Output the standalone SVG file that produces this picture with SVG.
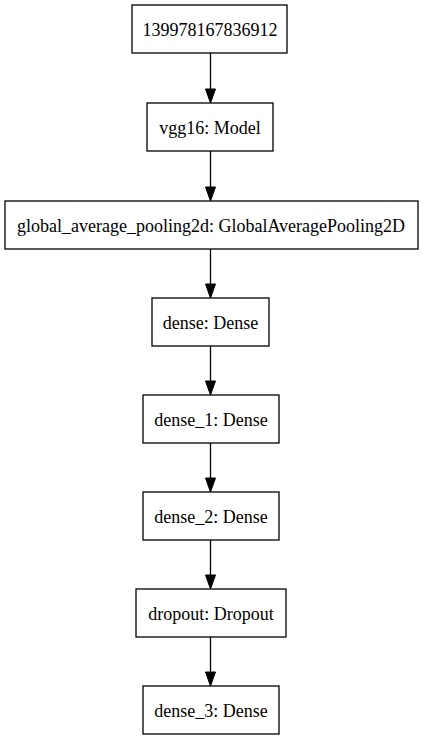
<svg xmlns="http://www.w3.org/2000/svg" width="423" height="741" viewBox="0 0 423 741">
<style>
.box{fill:#fff;stroke:#000;stroke-width:1.3}
.lbl{font-family:"Liberation Serif","Times New Roman",serif;font-size:18px;fill:#000;text-anchor:middle}
.edge{stroke:#000;stroke-width:1.3;fill:none}
.head{fill:#000;stroke:#000;stroke-width:1}
</style>
<rect width="423" height="741" fill="#fff"/>
<g id="connectors">
<line class="edge" x1="210.5" y1="53" x2="210.5" y2="89"/><polygon class="head" points="205.5,89 215.5,89 210.5,103"/>
<line class="edge" x1="210.5" y1="151" x2="210.5" y2="187"/><polygon class="head" points="205.5,187 215.5,187 210.5,201"/>
<line class="edge" x1="210.5" y1="249" x2="210.5" y2="284"/><polygon class="head" points="205.5,284 215.5,284 210.5,298"/>
<line class="edge" x1="210.5" y1="346" x2="210.5" y2="381"/><polygon class="head" points="205.5,381 215.5,381 210.5,395"/>
<line class="edge" x1="210.5" y1="443" x2="210.5" y2="478"/><polygon class="head" points="205.5,478 215.5,478 210.5,492"/>
<line class="edge" x1="210.5" y1="540" x2="210.5" y2="575"/><polygon class="head" points="205.5,575 215.5,575 210.5,589"/>
<line class="edge" x1="210.5" y1="637" x2="210.5" y2="672"/><polygon class="head" points="205.5,672 215.5,672 210.5,686"/>
</g>
<g id="n0"><rect class="box" x="132" y="5" width="155" height="48"/><text class="lbl" x="210" y="35.5">139978167836912</text></g>
<g id="n1"><rect class="box" x="147" y="103" width="126" height="48"/><text class="lbl" x="210" y="133.5">vgg16: Model</text></g>
<g id="n2"><rect class="box" x="5" y="201" width="413" height="48"/><text class="lbl" x="211" y="231.5">global_average_pooling2d: GlobalAveragePooling2D</text></g>
<g id="n3"><rect class="box" x="152" y="298" width="117" height="48"/><text class="lbl" x="210.5" y="328.5">dense: Dense</text></g>
<g id="n4"><rect class="box" x="143" y="395" width="136" height="48"/><text class="lbl" x="211" y="425.5">dense_1: Dense</text></g>
<g id="n5"><rect class="box" x="143" y="492" width="136" height="48"/><text class="lbl" x="211" y="522.5">dense_2: Dense</text></g>
<g id="n6"><rect class="box" x="136" y="589" width="150" height="48"/><text class="lbl" x="211" y="619.5">dropout: Dropout</text></g>
<g id="n7"><rect class="box" x="143" y="686" width="136" height="48"/><text class="lbl" x="211" y="716.5">dense_3: Dense</text></g>
</svg>
